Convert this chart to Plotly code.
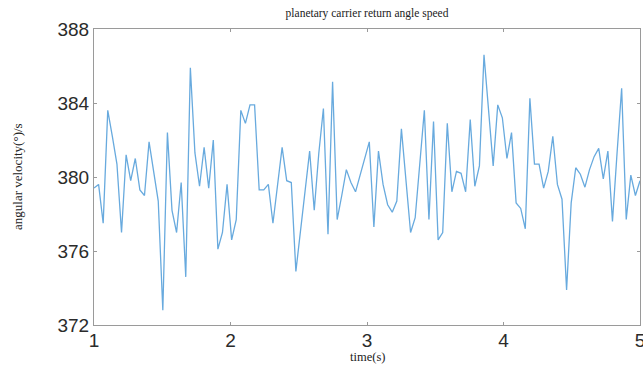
import numpy as np
import plotly.graph_objects as go

# angular velocity samples (deg/s)
speed = [
    379.4, 379.6, 377.5, 383.6, 382.2, 380.7, 377.0, 381.2, 379.8, 381.0,
    379.3, 379.0, 381.9, 380.3, 378.7, 372.8, 382.4, 378.2, 377.0, 379.7,
    374.6, 385.9, 381.3, 379.5, 381.6, 379.4, 382.0, 376.1, 377.0, 379.6,
    376.6, 377.7, 383.6, 382.9, 383.9, 383.9, 379.3, 379.3, 379.6, 377.5,
    379.5, 381.6, 379.8, 379.7, 374.9, 377.1, 379.2, 381.4, 378.2, 381.3,
    383.7, 376.9, 385.15, 377.7, 379.0, 380.4, 379.7, 379.2, 380.1, 381.0,
    381.9, 377.3, 381.4, 379.6, 378.5, 378.1, 378.7, 382.6, 380.0, 377.0,
    377.8, 380.6, 383.6, 377.7, 383.0, 376.6, 377.0, 382.9, 379.2, 380.3,
    380.2, 379.2, 383.1, 379.5, 380.6, 386.6, 383.5, 380.6, 383.9, 383.2,
    381.0, 382.4, 378.6, 378.3, 377.2, 384.25, 380.7, 380.7, 379.4, 380.3,
    382.2, 379.6, 378.8, 373.9, 378.6, 380.5, 380.15, 379.45, 380.4, 381.1,
    381.55, 379.9, 381.4, 377.6, 381.3, 384.8, 377.7, 380.1, 379.0, 379.8,
]
t_start, t_end = 1, 5
time = np.linspace(t_start, t_end, len(speed))

x_ticks = [1, 2, 3, 4, 5]
y_ticks = [372, 376, 380, 384, 388]

title_text = "planetary carrier return angle speed"
x_label = "time(s)"
y_label = "angular velocity(°)/s"

fig = go.Figure()
fig.add_trace(go.Scatter(
    x=time, y=speed, mode="lines",
    line=dict(color="rgb(104,170,222)", width=1.3),
    showlegend=False, hoverinfo="x+y",
))

serif = "Liberation Serif, Times New Roman, serif"
sans = "Liberation Sans, Arial, sans-serif"
frame = "#9a9a9a"

axis_common = dict(
    showline=True, linecolor=frame, linewidth=1, mirror="ticks",
    ticks="inside", ticklen=3, tickcolor=frame, tickwidth=1,
    showgrid=False, zeroline=False, ticklabeloverflow="allow",
    automargin=False,
    tickfont=dict(family=sans, size=19, color="#2b2b2b"),
)

fig.update_layout(
    width=643, height=365,
    margin=dict(l=94, r=3, t=29, b=40),
    paper_bgcolor="white", plot_bgcolor="white",
    title=dict(text=title_text, x=0.5, xref="paper", y=1 - 13 / 365,
               yref="container", xanchor="center", yanchor="middle",
               font=dict(family=serif, size=11.5, color="#222")),
    xaxis=dict(range=[t_start, t_end], tickvals=x_ticks, ticktext=[str(v) for v in x_ticks],
               ticklabelstandoff=-2, **axis_common),
    yaxis=dict(range=[y_ticks[0], y_ticks[-1]], tickvals=y_ticks,
               ticktext=[str(v) for v in y_ticks], **axis_common),
    annotations=[
        dict(text=x_label, xref="paper", yref="paper", x=0.5, y=0,
             yshift=-32, xanchor="center", yanchor="middle", showarrow=False,
             font=dict(family=serif, size=12.5, color="#222")),
        dict(text=y_label, xref="paper", yref="paper", x=0, y=0.5,
             xshift=-77, xanchor="center", yanchor="middle", textangle=-90,
             showarrow=False, font=dict(family=serif, size=13, color="#222")),
    ],
)

fig.write_html("out.html")
